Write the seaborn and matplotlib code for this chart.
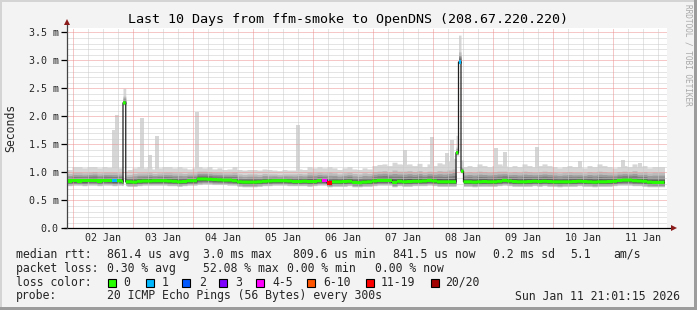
import numpy as np
import matplotlib
matplotlib.use("Agg")
import matplotlib.pyplot as plt
from matplotlib.patches import Rectangle
import seaborn as sns

# ---------------- data ----------------
BIN_H = 2.0  # hours per base bin, starting at the left edge of the graph

median_ms = [
    0.845, 0.850, 0.845, 0.850, 0.860, 0.860, 0.845, 0.860, 0.855, 0.850,
    0.850, 0.830, 0.830, 0.825, 0.840, 0.845, 0.845, 0.850, 0.850, 0.850,
    0.845, 0.840, 0.830, 0.835, 0.850, 0.850, 0.880, 0.880, 0.875, 0.870,
    0.865, 0.860, 0.860, 0.850, 0.830, 0.825, 0.825, 0.825, 0.830, 0.840,
    0.845, 0.850, 0.850, 0.850, 0.845, 0.835, 0.835, 0.840, 0.835, 0.835,
    0.850, 0.850, 0.810, 0.830, 0.830, 0.835, 0.840, 0.820, 0.815, 0.825,
    0.830, 0.845, 0.855, 0.855, 0.855, 0.820, 0.840, 0.830, 0.835, 0.840,
    0.840, 0.845, 0.855, 0.845, 0.830, 0.830, 0.830, 0.830, 0.830, 0.830,
    0.830, 0.825, 0.830, 0.835, 0.830, 0.830, 0.840, 0.855, 0.845, 0.835,
    0.830, 0.830, 0.835, 0.840, 0.835, 0.840, 0.835, 0.830, 0.830, 0.830,
    0.830, 0.835, 0.840, 0.835, 0.830, 0.825, 0.830, 0.830, 0.835, 0.840,
    0.855, 0.860, 0.860, 0.850, 0.845, 0.840, 0.825, 0.820, 0.820,
]
top_ms = [
    1.05, 1.10, 1.10, 1.08, 1.10, 1.10, 1.08, 1.10, 1.09, 1.10,
    1.08, 1.02, 1.05, 1.08, 1.10, 1.08, 1.10, 1.06, 1.08, 1.10,
    1.10, 1.08, 1.10, 1.08, 1.06, 1.08, 1.10, 1.08, 1.10, 1.06,
    1.08, 1.05, 1.06, 1.10, 1.05, 1.04, 1.05, 1.05, 1.04, 1.06,
    1.05, 1.04, 1.03, 1.05, 1.04, 1.04, 1.06, 1.05, 1.10, 1.08,
    1.10, 1.08, 1.10, 1.08, 1.05, 1.08, 1.10, 1.06, 1.05, 1.08,
    1.06, 1.12, 1.14, 1.15, 1.12, 1.18, 1.15, 1.14, 1.15, 1.12,
    1.16, 1.10, 1.15, 1.12, 1.17, 1.15, 1.20, 1.25, 1.12, 1.10,
    1.12, 1.10, 1.15, 1.12, 1.10, 1.12, 1.15, 1.12, 1.10, 1.12,
    1.10, 1.15, 1.12, 1.10, 1.12, 1.15, 1.12, 1.10, 1.08, 1.10,
    1.12, 1.10, 1.10, 1.08, 1.12, 1.10, 1.15, 1.12, 1.10, 1.08,
    1.10, 1.12, 1.10, 1.15, 1.10, 1.12, 1.08, 1.10, 1.10,
]
upper_ms = [
    0.98, 1.00, 1.00, 0.99, 1.00, 1.01, 0.99, 1.00, 1.00, 1.00,
    0.99, 0.95, 0.96, 0.98, 0.99, 0.99, 1.00, 0.98, 0.99, 1.00,
    1.00, 0.99, 0.99, 0.98, 0.99, 0.99, 1.02, 1.02, 1.01, 1.00,
    1.00, 0.99, 0.99, 1.00, 0.97, 0.96, 0.97, 0.97, 0.96, 0.98,
    0.97, 0.97, 0.96, 0.97, 0.97, 0.97, 0.98, 0.97, 1.00, 0.99,
    1.00, 0.99, 1.00, 0.99, 0.97, 0.99, 1.00, 0.98, 0.97, 0.99,
    0.98, 1.01, 1.02, 1.03, 1.01, 1.04, 1.02, 1.02, 1.03, 1.01,
    1.03, 1.00, 1.02, 1.01, 1.03, 1.02, 1.04, 1.06, 1.00, 1.00,
    1.01, 1.00, 1.02, 1.01, 1.00, 1.01, 1.02, 1.02, 1.00, 1.01,
    1.00, 1.02, 1.01, 1.00, 1.01, 1.02, 1.01, 1.00, 0.99, 1.00,
    1.01, 1.00, 1.00, 0.99, 1.01, 1.00, 1.02, 1.01, 1.00, 0.99,
    1.01, 1.02, 1.01, 1.03, 1.00, 1.01, 0.99, 1.00, 1.00,
]
bottom_ms = [
    0.76, 0.77, 0.77, 0.76, 0.77, 0.77, 0.76, 0.77, 0.77, 0.76,
    0.77, 0.76, 0.75, 0.75, 0.76, 0.77, 0.77, 0.77, 0.77, 0.77,
    0.76, 0.76, 0.75, 0.76, 0.77, 0.77, 0.78, 0.79, 0.79, 0.78,
    0.78, 0.78, 0.77, 0.77, 0.75, 0.74, 0.74, 0.74, 0.75, 0.76,
    0.76, 0.77, 0.77, 0.77, 0.76, 0.76, 0.76, 0.76, 0.75, 0.76,
    0.77, 0.77, 0.74, 0.75, 0.75, 0.75, 0.76, 0.74, 0.74, 0.75,
    0.75, 0.76, 0.77, 0.77, 0.77, 0.74, 0.76, 0.75, 0.75, 0.76,
    0.76, 0.76, 0.77, 0.76, 0.75, 0.75, 0.75, 0.75, 0.75, 0.75,
    0.75, 0.74, 0.75, 0.75, 0.75, 0.75, 0.76, 0.77, 0.76, 0.75,
    0.75, 0.75, 0.75, 0.76, 0.75, 0.76, 0.75, 0.75, 0.74, 0.75,
    0.75, 0.75, 0.76, 0.75, 0.75, 0.74, 0.75, 0.75, 0.75, 0.76,
    0.77, 0.77, 0.77, 0.76, 0.76, 0.75, 0.74, 0.74, 0.74,
]
lost_pings = [0] * 119
lost_pings[9] = 1
lost_pings[51] = 5
lost_pings[52] = 11

# short events (hours from graph start) overriding the base bins
event_start_h = [22.4, 155.6, 156.6, 157.6]
event_end_h = [23.5, 156.6, 157.6, 158.6]
event_median = [2.24, 1.35, 2.97, 1.02]
event_bottom = [2.21, 1.31, 2.94, 0.99]
event_upper = [2.36, 1.45, 3.15, 1.10]
event_top = [2.50, 1.66, 3.45, 1.22]
event_lost = [0, 0, 1, 0]

# narrow outlier spikes of the light smoke
spike_h = [18.6, 20.0, 30.0, 33.2, 36.0, 52.0, 92.4, 135.2, 146.0, 152.0,
           154.0, 171.6, 175.2, 188.0, 205.2, 222.4, 229.2]
spike_top_ms = [1.75, 2.02, 1.97, 1.31, 1.65, 2.08, 1.84, 1.40, 1.63, 1.34,
                1.57, 1.43, 1.37, 1.45, 1.20, 1.22, 1.16]

ytick_vals = [0.0, 0.5, 1.0, 1.5, 2.0, 2.5, 3.0, 3.5]
ytick_labels = ["0.0", "0.5 m", "1.0 m", "1.5 m", "2.0 m", "2.5 m", "3.0 m", "3.5 m"]
xtick_labels = ["02 Jan", "03 Jan", "04 Jan", "05 Jan", "06 Jan",
                "07 Jan", "08 Jan", "09 Jan", "10 Jan", "11 Jan"]
FIRST_MIDNIGHT_H = 2.4

loss_names = ["0", "1", "2", "3", "4-5", "6-10", "11-19", "20/20"]
loss_colors = ["#26ff00", "#00b8ff", "#0059ff", "#7e00ff", "#ff00ff",
               "#ff5500", "#ff0000", "#a00000"]
loss_upper = [0, 1, 2, 3, 5, 10, 19, 20]

# ---------------- figure ----------------
W, H = 697, 310
sns.set_style("white")
plt.rcParams["font.family"] = ["DejaVu Sans Mono"]

fig = plt.figure(figsize=(W / 100, H / 100), dpi=100)
fig.patch.set_facecolor("#f3f3f3")


def fx(x):
    return x / W


def fy(y):
    return 1 - y / H


# border shading
fig.add_artist(Rectangle((0, fy(2)), 1, 2 / H, transform=fig.transFigure, color="#d4d4d4", lw=0))
fig.add_artist(Rectangle((0, 0), 2 / W, 1, transform=fig.transFigure, color="#d4d4d4", lw=0))
fig.add_artist(Rectangle((fx(694), 0), 3 / W, 1, transform=fig.transFigure, color="#9c9c9c", lw=0))
fig.add_artist(Rectangle((0, 0), 1, 3 / H, transform=fig.transFigure, color="#9c9c9c", lw=0))

X0, X1, Y0, Y1 = 67, 667, 228.3, 28.3
ax = fig.add_axes([fx(X0), fy(Y0), (X1 - X0) / W, (Y0 - Y1) / H])
ax.set_facecolor("white")
YMAX = (Y0 - Y1) / 56.0
ax.set_xlim(0, 240)
ax.set_ylim(0, YMAX)
for s in ax.spines.values():
    s.set_visible(False)

# build fine time grid from bins + events
t = np.round(np.arange(0, 239.0 + 1e-9, 0.1), 4)
nb = len(median_ms)
idx = np.minimum((t // BIN_H).astype(int), nb - 1)
med = np.array(median_ms)[idx]
top = np.array(top_ms)[idx]
upp = np.array(upper_ms)[idx]
bot = np.array(bottom_ms)[idx]
lost = np.array(lost_pings)[idx]
for s, e, m, b, u, tp, l in zip(event_start_h, event_end_h, event_median, event_bottom,
                                event_upper, event_top, event_lost):
    sel = (t >= s - 1e-6) & (t < e - 1e-6)
    med[sel], bot[sel], upp[sel], top[sel], lost[sel] = m, b, u, tp, l

# light spikes
ax.bar(spike_h, [v - 0.9 for v in spike_top_ms], bottom=0.9, width=1.25,
       color="#d6d6d6", lw=0, zorder=1)

# smoke layers
ax.fill_between(t, bot, top, step="post", color="#d6d6d6", lw=0, zorder=2)
layers = [(0.92, 1.0, "#bcbcbc"), (0.7, 0.72, "#9c9c9c"),
          (0.5, 0.5, "#7c7c7c"), (0.3, 0.28, "#575757")]
for fl, fu, c in layers:
    ax.fill_between(t, med - (med - bot) * fl, med + (upp - med) * fu,
                    step="post", color=c, lw=0, zorder=2)

# grid (drawn over smoke)
dots = (0, (1, 1))
for k in range(1, 36):
    v = k * 0.1
    major = (k % 5 == 0)
    ax.axhline(v, color="#ec9090" if major else "#cacaca", lw=0.72, ls=dots, zorder=3)
for k in range(0, 40):
    h = FIRST_MIDNIGHT_H + 6 * k
    if h >= 240:
        break
    major = (k % 4 == 0)
    ax.axvline(h, color="#ec9090" if major else "#cacaca", lw=0.72, ls=dots, zorder=3)

# median line
sns.lineplot(x=t, y=med, drawstyle="steps-post", color="#202020", lw=0.9,
             estimator=None, sort=False, ax=ax, zorder=5)

# loss-coloured median bars
cls = np.zeros_like(lost)
for i, ub in enumerate(loss_upper):
    lb = loss_upper[i - 1] + 1 if i > 0 else 0
    cls[(lost >= lb) & (lost <= ub)] = i
half = 0.028
for i, c in enumerate(loss_colors):
    m = cls == i
    if not m.any():
        continue
    ax.fill_between(t, np.where(m, med - half, np.nan), np.where(m, med + half, np.nan),
                    step="post", color=c, lw=0, zorder=6)

# axes lines + arrows
ax.plot([-1.2, 242.3], [0, 0], color="#000000", lw=0.9, clip_on=False, zorder=7)
ax.plot([0, 0], [0, YMAX + 0.09], color="#444444", lw=0.9, clip_on=False, zorder=7)
ax.plot([242.6], [0], marker=">", ms=4.5, color="#8b1a1a", clip_on=False, zorder=8, mew=0)
ax.plot([0], [YMAX + 0.11], marker="^", ms=4.5, color="#8b1a1a", clip_on=False, zorder=8, mew=0)

ax.set_yticks(ytick_vals)
ax.set_yticklabels(ytick_labels)
ax.set_xticks([FIRST_MIDNIGHT_H + 12 + 24 * k for k in range(len(xtick_labels))])
ax.set_xticklabels(xtick_labels)
ax.tick_params(axis="y", length=4, width=0.9, color="#000000", pad=2, labelsize=7.2,
               left=True)
ax.tick_params(axis="x", length=0, pad=3.5, labelsize=7.2)
ax.set_xlabel("")
ax.set_ylabel("")

# titles
fig.text(fx(348), fy(19.3), "Last 10 Days from ffm-smoke to OpenDNS (208.67.220.220)",
         ha="center", va="center", fontsize=9.6, color="#000000")
fig.text(fx(11), fy(128), "Seconds", rotation=90, ha="center", va="center", fontsize=8.3)
fig.text(fx(688), fy(4), "RRDTOOL / TOBI OETIKER", rotation=-90, ha="center", va="top",
         fontsize=5.6, color="#a8a8a8")

FS = 8.3
row1 = [("median rtt:", 16), ("861.4 us avg", 107), ("3.0 ms max", 203), ("809.6 us min", 293),
        ("841.5 us now", 393), ("0.2 ms sd", 493), ("5.1", 570), ("am/s", 613)]
row2 = [("packet loss:", 16), ("0.30 % avg", 107), ("52.08 % max", 203),
        ("0.00 % min", 287), ("0.00 % now", 375)]
for txt, x in row1:
    fig.text(fx(x), fy(254.3), txt, ha="left", va="center", fontsize=FS)
for txt, x in row2:
    fig.text(fx(x), fy(268.3), txt, ha="left", va="center", fontsize=FS)

fig.text(fx(16), fy(282.3), "loss color:", ha="left", va="center", fontsize=FS)
box_x = [108, 146, 182, 219, 256, 307, 366, 431]
lab_x = [123, 162, 199, 235, 272, 323, 381, 445]
for bx, lx, name, c in zip(box_x, lab_x, loss_names, loss_colors):
    fig.add_artist(Rectangle((fx(bx), fy(286.5)), 8 / W, 8 / H, transform=fig.transFigure,
                             facecolor=c, edgecolor="#000000", lw=0.8))
    fig.text(fx(lx), fy(282.3), name, ha="left", va="center", fontsize=FS)

fig.text(fx(16), fy(296), "probe:", ha="left", va="center", fontsize=FS)
fig.text(fx(107), fy(296), "20 ICMP Echo Pings (56 Bytes) every 300s", ha="left", va="center",
         fontsize=FS)
fig.text(fx(680), fy(296), "Sun Jan 11 21:01:15 2026", ha="right", va="center", fontsize=FS)

fig.savefig("out.png", dpi=100, facecolor=fig.get_facecolor())
